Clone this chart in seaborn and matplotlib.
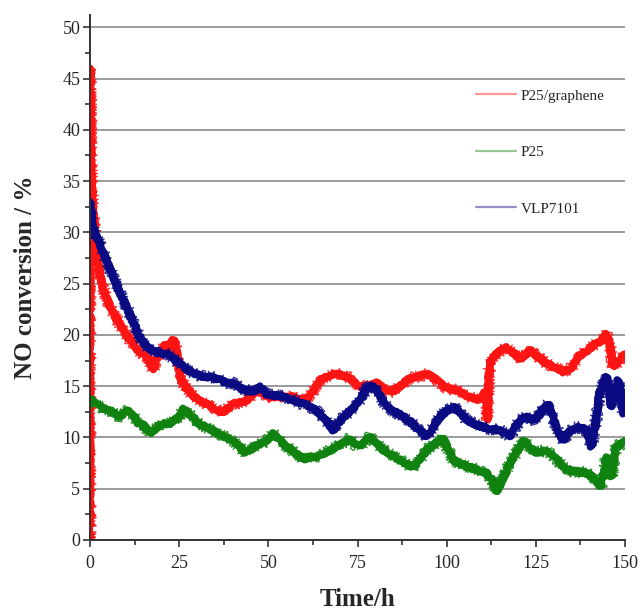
import numpy as np
import pandas as pd
import matplotlib
matplotlib.use("Agg")
import matplotlib.pyplot as plt
from matplotlib.ticker import MultipleLocator
import seaborn as sns

series_names = ["P25/graphene", "P25", "VLP7101"]
series_colors = ["#ff1414", "#0f820f", "#0a0a82"]

t_red = [0, 0, 0.3, 0.7, 1.4, 2.2, 3.3, 4.6, 6.1, 8.0, 9.8, 11.5, 13.5, 15.5, 16.5, 17.7, 18.8, 20.0, 21.0, 22.3,
         23.3, 24.0, 25.2, 26.5, 29.0, 31.0, 33.0, 35.5, 37.0, 38.5, 40.2, 42.0, 43.9, 45.5, 47.1, 49.0, 50.9, 53.0,
         55.0, 57.0, 59.5, 61.7, 63.0, 64.5, 66.5, 69.2, 71.0, 72.9, 75.7, 78.0, 80.4, 83.0, 85.0, 87.0, 88.8, 91.5,
         94.4, 96.5, 98.1, 100.0, 102.8, 105.0, 107.5, 109.0, 110.2, 111.0, 111.4, 111.8, 112.1, 113.5, 115.0, 116.8,
         118.5, 120.5, 122.0, 123.4, 125.5, 128.0, 130.5, 132.7, 135.0, 137.4, 139.5, 142.0, 143.5, 144.8, 145.5,
         146.7, 148.0, 149.5, 150]
v_red = [0, 46, 37, 32.5, 29.9, 27.3, 25.0, 23.6, 22.4, 21.2, 20.2, 19.4, 18.5, 17.9, 17.6, 16.6, 17.8, 18.3, 19.0,
         18.8, 19.5, 19.2, 15.9, 15.0, 14.0, 13.6, 13.2, 12.7, 12.4, 12.8, 13.3, 13.4, 13.6, 14.2, 14.6, 14.2, 13.8,
         14.1, 13.9, 14.0, 13.7, 14.0, 14.8, 15.6, 16.0, 16.2, 16.0, 15.8, 14.9, 15.0, 15.3, 14.6, 14.5, 15.0, 15.6,
         15.9, 16.2, 15.8, 15.3, 14.8, 14.6, 14.2, 13.8, 13.7, 14.0, 14.6, 11.7, 15.5, 17.2, 18.0, 18.4, 18.8, 18.3,
         17.7, 18.0, 18.5, 17.9, 17.2, 16.8, 16.4, 16.8, 18.0, 18.5, 19.2, 19.4, 20.1, 19.5, 16.9, 17.3, 17.9, 18.2]

t_green = [0, 2.0, 4.2, 6.0, 7.9, 9.5, 10.7, 12.0, 13.5, 15.0, 16.8, 18.5, 20.5, 22.0, 23.8, 25.0, 26.3, 28.0, 30.4,
           32.5, 34.5, 36.5, 38.5, 40.0, 42.0, 43.5, 45.0, 46.5, 48.1, 49.5, 51.4, 53.0, 55.1, 57.5, 59.8, 62.0, 64.5,
           67.0, 69.2, 71.0, 72.9, 74.3, 75.7, 77.0, 78.5, 80.5, 82.2, 84.5, 86.9, 88.8, 90.6, 92.5, 94.4, 96.5, 98.0,
           99.0, 100.3, 101.9, 104.0, 106.5, 109.0, 111.2, 112.5, 114.0, 115.5, 116.8, 119.0, 121.5, 123.5, 125.2,
           127.0, 128.9, 131.0, 133.6, 136.5, 139.2, 141.0, 142.5, 143.2, 144.0, 144.8, 145.5, 146.2, 147.0, 147.6,
           148.5, 149.5, 150]
v_green = [13.8, 13.2, 12.7, 12.6, 12.0, 12.3, 12.7, 12.2, 11.4, 11.2, 10.4, 10.9, 11.4, 11.3, 11.7, 12.0, 12.8, 12.2,
           11.4, 11.0, 10.7, 10.2, 10.0, 9.6, 9.1, 8.5, 8.7, 9.2, 9.4, 9.7, 10.4, 9.8, 9.1, 8.5, 7.9, 8.1, 8.2, 8.7,
           9.1, 9.5, 9.9, 9.3, 9.1, 9.6, 10.1, 9.4, 8.8, 8.3, 7.8, 7.4, 7.1, 7.8, 8.8, 9.3, 9.7, 10.0, 8.9, 7.8, 7.4,
           7.1, 6.8, 6.5, 6.0, 4.7, 5.8, 6.8, 8.2, 9.7, 9.0, 8.5, 8.7, 8.5, 7.8, 6.8, 6.7, 6.5, 6.2, 5.5, 5.2, 6.5,
           8.1, 7.2, 6.2, 8.0, 9.1, 9.3, 9.4, 9.6]

t_blue = [0, 0.5, 1.2, 2.2, 3.2, 4.2, 5.5, 7.0, 8.8, 10.7, 12.0, 13.5, 15.0, 16.5, 17.3, 18.5, 19.6, 21.0, 23.0, 25.2,
          27.0, 29.4, 31.0, 32.7, 34.0, 36.5, 38.8, 40.2, 42.0, 43.5, 46.0, 47.7, 49.5, 52.3, 55.0, 57.0, 59.5, 61.7,
          63.5, 65.4, 67.0, 68.2, 70.0, 72.0, 74.8, 76.5, 77.6, 79.0, 80.5, 83.1, 85.5, 87.8, 90.0, 92.5, 94.4, 96.0,
          98.1, 100.0, 101.9, 103.5, 105.6, 108.0, 110.2, 112.5, 115.0, 117.7, 119.0, 120.5, 122.5, 124.3, 126.0,
          127.5, 128.5, 130.0, 131.5, 132.7, 134.0, 135.5, 137.5, 139.2, 140.6, 141.8, 143.0, 144.8, 145.5, 146.2,
          147.0, 148.1, 149.0, 149.5, 150]
v_blue = [33, 31.0, 30.0, 29.3, 28.5, 27.6, 26.5, 25.3, 23.8, 22.4, 21.3, 20.1, 19.2, 18.7, 18.5, 18.3, 18.2, 18.2,
          17.8, 17.2, 16.6, 16.2, 16.0, 15.9, 15.9, 15.6, 15.3, 15.3, 14.9, 14.6, 14.5, 15.0, 14.2, 14.1, 13.9, 13.6,
          13.3, 13.0, 12.6, 12.0, 11.3, 10.7, 11.6, 12.3, 13.2, 14.0, 14.9, 15.0, 14.6, 13.0, 12.5, 12.0, 11.5, 10.7,
          10.1, 10.9, 12.0, 12.6, 13.0, 12.5, 11.7, 11.3, 11.0, 10.8, 10.7, 10.1, 10.8, 11.7, 12.0, 11.7, 12.2, 13.0,
          13.3, 11.7, 10.5, 9.7, 10.4, 10.9, 11.0, 10.7, 9.1, 11.5, 14.6, 15.9, 14.5, 13.0, 14.0, 15.6, 13.8, 12.3,
          12.8]

x_ticks = [0, 25, 50, 75, 100, 125, 150]
y_ticks = [0, 5, 10, 15, 20, 25, 30, 35, 40, 45, 50]

frames = []
for name, t, v in zip(series_names, [t_red, t_green, t_blue], [v_red, v_green, v_blue]):
    frames.append(pd.DataFrame({"Time": t, "Conv": v, "Sample": name}))
df = pd.concat(frames, ignore_index=True)

sns.set_theme(style="white")
plt.rcParams["font.family"] = ["Liberation Serif", "DejaVu Serif"]

fig = plt.figure(figsize=(6.4, 6.14), dpi=100)
ax = fig.add_axes([90 / 640, 74 / 614, 535 / 640, 525 / 614])
palette = dict(zip(series_names, series_colors))

# fuzzy noise halo (thin sketched trace)
sns.lineplot(data=df, x="Time", y="Conv", hue="Sample", hue_order=series_names, palette=palette,
             estimator=None, sort=False, units="Sample", linewidth=1.0, legend=False, ax=ax)
n_halo = len(ax.get_lines())
for line in ax.get_lines():
    line.set_sketch_params(scale=6.0, length=0.8, randomness=2)
    line.set_alpha(0.85)

# solid core of each trace
sns.lineplot(data=df, x="Time", y="Conv", hue="Sample", hue_order=series_names, palette=palette,
             estimator=None, sort=False, units="Sample", linewidth=5.2, ax=ax)
for line in ax.get_lines()[n_halo:]:
    line.set_sketch_params(scale=1.2, length=1.0, randomness=2)
    line.set_solid_joinstyle("round")

for i, line in enumerate(ax.get_lines()):
    line.set_zorder(2 + (i % n_halo) * 0.1 + (0.05 if i >= n_halo else 0))

ax.set_xlim(0, 150)
ax.set_ylim(0, 51.2)
ax.set_xticks(x_ticks)
ax.set_yticks(y_ticks)
ax.xaxis.set_minor_locator(MultipleLocator(12.5))
ax.yaxis.set_minor_locator(MultipleLocator(2.5))
ax.tick_params(axis="both", which="major", direction="out", length=5, width=1.2, color="#333333",
               labelsize=13, pad=2, bottom=True, left=True)
ax.tick_params(axis="x", which="major", pad=6)
ax.tick_params(axis="both", which="minor", direction="out", length=3.5, width=1.2, color="#333333",
               bottom=True, left=True)
ax.grid(axis="y", color="#9a9a9a", linewidth=1.4)
ax.grid(axis="x", visible=False)
ax.set_axisbelow(True)
for side in ["top", "right"]:
    ax.spines[side].set_visible(False)
for side in ["left", "bottom"]:
    ax.spines[side].set_color("#333333")
    ax.spines[side].set_linewidth(1.4)
    ax.spines[side].set_zorder(5)

ax.set_xlabel("Time/h", fontsize=18, fontweight="bold", labelpad=11)
ax.set_ylabel("NO conversion / %", fontsize=18, fontweight="bold", labelpad=18)

handles, labels = ax.get_legend_handles_labels()
leg = ax.legend(handles, labels, frameon=False, loc="upper left",
                bbox_to_anchor=(470 / 640, 1 - 83 / 614), bbox_transform=fig.transFigure,
                borderaxespad=0, borderpad=0.4, fontsize=11, handlelength=2.6,
                handletextpad=0.3, labelspacing=2.8)
for line in leg.get_lines():
    line.set_linewidth(1.6)
    line.set_alpha(0.45)
    line.set_sketch_params(None)

fig.savefig("out.png", dpi=100)
